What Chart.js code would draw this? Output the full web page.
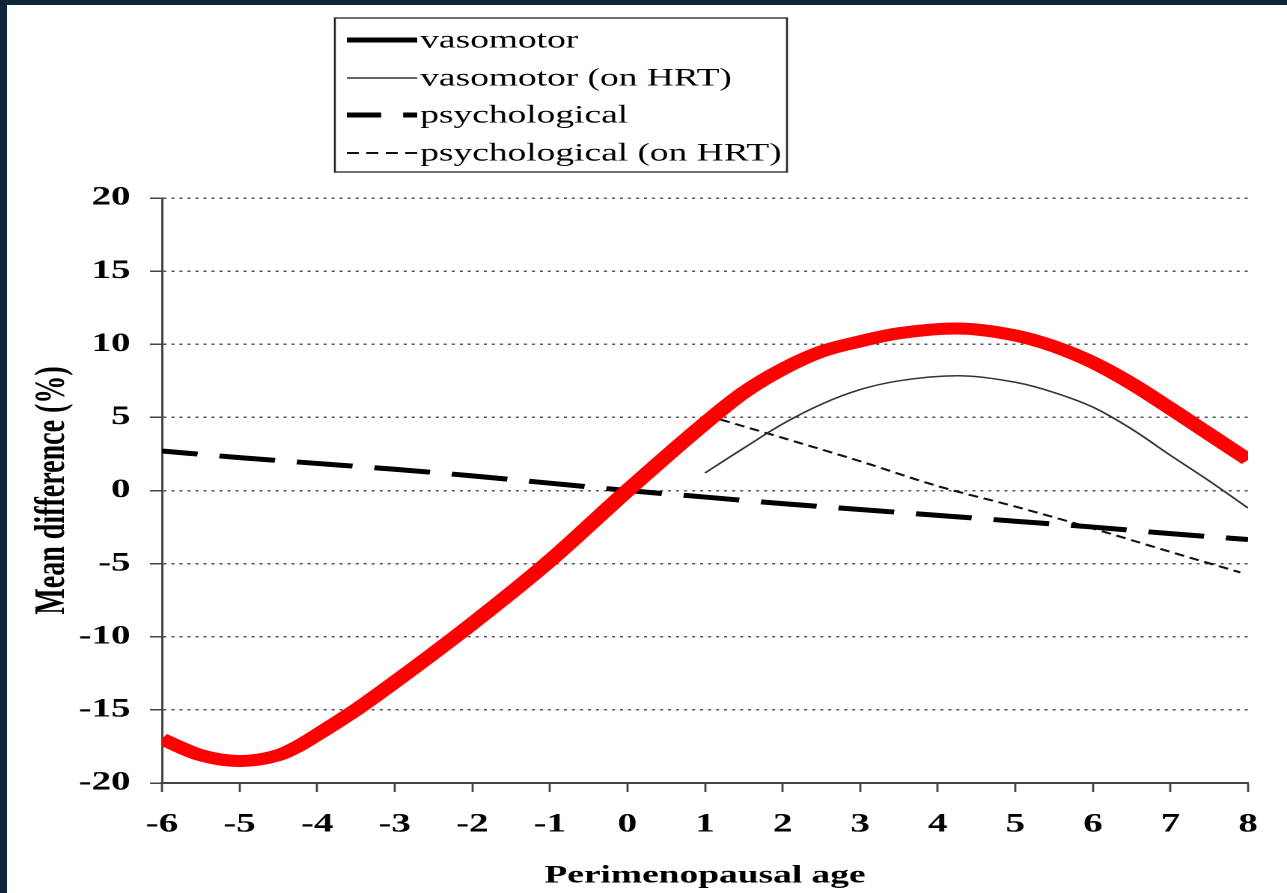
<!DOCTYPE html>
<html>
<head>
<meta charset="utf-8">
<script src="https://cdn.jsdelivr.net/npm/chart.js@4.4.0/dist/chart.umd.min.js"></script>
<style>
  html, body { margin: 0; padding: 0; background: #11243e; width: 1287px; height: 893px; overflow: hidden; }
  #frame { position: absolute; left: 7px; top: 5px; width: 1280px; height: 888px; background: #fff; }
  #chart { display: block; width: 1280px; height: 888px; }
</style>
</head>
<body>
<div id="frame">
  <!-- the scanned figure is stretched sideways, so the canvas is drawn narrow and widened with css -->
  <canvas id="chart" width="855" height="888" style="width:1280px;height:888px"></canvas>
</div>
<script>
var vasoAges = [-6, -5.5, -5, -4.5, -4.25, -4, -3.5, -3, -2, -1, 0, 1, 1.5, 2, 2.5, 3, 3.5, 4.25, 5, 5.5, 6, 6.5, 7, 7.5, 8];
var vasomotor = [-17.1, -18.2, -18.6, -18.2, -17.7, -17.0, -15.3, -13.4, -9.3, -4.9, 0, 4.4, 6.5, 8.1, 9.4, 10.2, 10.75, 11.08, 10.6, 9.85, 8.75, 7.3, 5.6, 3.85, 2.1];
// red pen highlight traced over the vasomotor curve
var highlight = [-17.0, -18.1, -18.5, -18.1, -17.5, -16.7, -15.0, -13.1, -9.1, -4.8, 0, 4.6, 6.7, 8.3, 9.5, 10.2, 10.75, 11.08, 10.6, 9.85, 8.75, 7.3, 5.6, 3.85, 2.1];

var hrtAges = [1, 1.5, 2, 2.5, 3, 3.5, 4.25, 5, 5.5, 6, 6.5, 7, 7.5, 8];
var vasomotorHrt = [1.2, 2.9, 4.55, 5.9, 6.9, 7.5, 7.85, 7.4, 6.7, 5.7, 4.2, 2.4, 0.65, -1.2];

var psychAges = [-6, -5, -4, -3, -2, -1, 0, 1, 2, 3, 4, 5, 6, 7, 8];
var psychological = [2.7, 2.25, 1.85, 1.45, 1.0, 0.5, 0, -0.45, -0.9, -1.3, -1.7, -2.1, -2.5, -2.95, -3.35];

var psychHrtAges = [1.2, 2, 3, 4, 5, 6, 7, 7.9];
var psychologicalHrt = [4.85, 3.6, 2.0, 0.3, -1.1, -2.6, -4.2, -5.6];

var xTicks = [-6, -5, -4, -3, -2, -1, 0, 1, 2, 3, 4, 5, 6, 7, 8];
var yTicks = [-20, -15, -10, -5, 0, 5, 10, 15, 20];

var serif = '"Liberation Serif", "Times New Roman", serif';

var toPoints = function(xs, ys) {
    var pts = [];
    for (var i = 0; i < xs.length; i++) {
        pts.push({x: xs[i], y: ys[i]});
    }
    return pts;
};

var boxLegend = {
    id: 'boxLegend',
    afterDraw: function(chart) {
        var ctx = chart.ctx;
        ctx.save();
        ctx.strokeStyle = '#222';
        ctx.lineWidth = 1.3;
        ctx.strokeRect(219, 13, 302, 154);
        var rows = [35, 73, 110, 148];
        var k = 0;
        chart.data.datasets.forEach(function(ds) {
            if (!ds.inLegend) return;
            var y = rows[k++];
            ctx.save();
            ctx.strokeStyle = ds.borderColor;
            ctx.lineWidth = ds.legendWidth || ds.borderWidth;
            ctx.setLineDash(ds.legendDash || ds.borderDash || []);
            ctx.lineDashOffset = ds.legendDashOffset || 0;
            ctx.beginPath();
            ctx.moveTo(227, y);
            ctx.lineTo(274, y);
            ctx.stroke();
            ctx.restore();
            ctx.fillStyle = '#000';
            ctx.font = '25px ' + serif;
            ctx.textBaseline = 'middle';
            ctx.textAlign = 'left';
            ctx.fillText(ds.label, 276, y + 1);
        });
        ctx.restore();
    }
};

var config = {
    type: 'line',
    data: {
        datasets: [{
            label: 'highlight',
            data: toPoints(vasoAges, highlight),
            borderColor: '#ff0000',
            borderWidth: 12,
            borderCapStyle: 'butt',
            cubicInterpolationMode: 'monotone',
            pointRadius: 0,
            inLegend: false
        }, {
            label: 'vasomotor',
            data: toPoints(vasoAges, vasomotor),
            borderColor: '#000',
            borderWidth: 5,
            cubicInterpolationMode: 'monotone',
            pointRadius: 0,
            inLegend: true
        }, {
            label: 'vasomotor (on HRT)',
            data: toPoints(hrtAges, vasomotorHrt),
            borderColor: '#333',
            borderWidth: 1.5,
            cubicInterpolationMode: 'monotone',
            pointRadius: 0,
            inLegend: true
        }, {
            label: 'psychological',
            data: toPoints(psychAges, psychological),
            borderColor: '#000',
            borderWidth: 5,
            borderDash: [37.4, 14.7],
            borderDashOffset: 13.4,
            legendDashOffset: 14.5,
            cubicInterpolationMode: 'monotone',
            pointRadius: 0,
            inLegend: true
        }, {
            label: 'psychological (on HRT)',
            data: toPoints(psychHrtAges, psychologicalHrt),
            borderColor: '#111',
            borderWidth: 2,
            borderDash: [6.7, 4],
            legendDash: [8, 5],
            cubicInterpolationMode: 'monotone',
            pointRadius: 0,
            inLegend: true
        }]
    },
    options: {
        responsive: false,
        devicePixelRatio: 2,
        animation: false,
        layout: {
            padding: {left: 0, top: 193, right: 26, bottom: 0}
        },
        plugins: {
            legend: {display: false},
            tooltip: {enabled: false}
        },
        scales: {
            x: {
                type: 'linear',
                min: -6,
                max: 8,
                afterFit: function(scale) { scale.height = 110; },
                afterBuildTicks: function(scale) {
                    scale.ticks = xTicks.map(function(v) { return {value: v}; });
                },
                grid: {
                    drawOnChartArea: false,
                    drawTicks: true,
                    tickLength: 9,
                    tickColor: '#444',
                    tickWidth: 1.4
                },
                border: {display: true, color: '#444', width: 2},
                ticks: {
                    color: '#000',
                    padding: 17,
                    maxRotation: 0,
                    font: {family: serif, size: 26, weight: 'bold'}
                },
                title: {
                    display: true,
                    text: 'Perimenopausal age',
                    color: '#000',
                    padding: {top: 0, bottom: 2},
                    font: {family: serif, size: 25, weight: 'bold'}
                }
            },
            y: {
                min: -20,
                max: 20,
                afterFit: function(scale) { scale.width = 103.5; },
                afterBuildTicks: function(scale) {
                    scale.ticks = yTicks.map(function(v) { return {value: v}; });
                },
                grid: {
                    color: '#555',
                    lineWidth: 1.5,
                    drawTicks: true,
                    tickLength: 8,
                    tickColor: '#444',
                    tickWidth: 1.5,
                    tickBorderDash: []
                },
                border: {display: true, color: '#444', width: 1.5, dash: [2, 3.35]},
                ticks: {
                    color: '#000',
                    padding: 13,
                    font: {family: serif, size: 26, weight: 'bold'}
                },
                title: {
                    display: true,
                    text: 'Mean difference (%)',
                    color: '#000',
                    padding: {top: 14, bottom: 0},
                    font: {family: serif, size: 28, weight: 'bold'}
                }
            }
        }
    },
    plugins: [boxLegend]
};

var ctx = document.getElementById('chart').getContext('2d');
var oneChart = new Chart(ctx, config);
</script>
</body>
</html>
